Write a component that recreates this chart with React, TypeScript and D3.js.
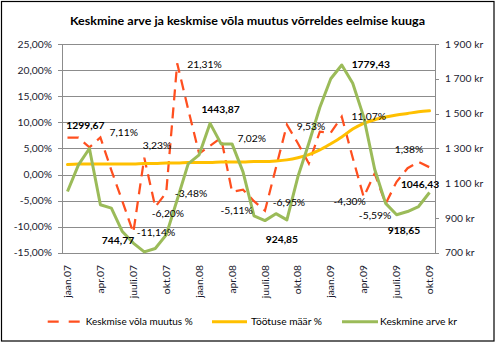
import React from 'react';
import * as d3 from 'd3';

const months = [
  'jaan.07','veebr.07','märts.07','apr.07','mai.07','juuni.07','juuli.07','aug.07','sept.07','okt.07','nov.07','dets.07',
  'jaan.08','veebr.08','märts.08','apr.08','mai.08','juuni.08','juuli.08','aug.08','sept.08','okt.08','nov.08','dets.08',
  'jaan.09','veebr.09','märts.09','apr.09','mai.09','juuni.09','juuli.09','aug.09','sept.09','okt.09'
];

// Keskmise võla muutus % (left axis)
const debtChange = [
  7.05, 7.05, 5.2, 7.11, 0.8, -5.1, -11.14, 3.23, -6.2, -3.48, 21.31, 12.5,
  4.0, 5.5, 7.02, -3.3, -2.9, -5.11, -6.95, 1.3, 9.53, 6.0, 2.1, 8.2,
  8.0, 11.07, 3.2, -4.3, 0.2, -5.59, -1.4, 1.2, 2.4, 1.38
];

// Töötuse määr % (left axis)
const unemployment = [
  1.9, 2.0, 2.0, 2.0, 2.0, 2.0, 2.0, 2.1, 2.1, 2.2, 2.2, 2.3,
  2.3, 2.3, 2.4, 2.4, 2.4, 2.5, 2.5, 2.6, 2.8, 3.2, 3.8, 4.7,
  5.9, 7.2, 8.7, 9.8, 10.5, 11.0, 11.4, 11.7, 12.0, 12.2
];

// Keskmine arve kr (right axis)
const avgBill = [
  1052, 1205, 1299.67, 976, 957, 822, 756, 705, 725, 803, 1005, 1211,
  1263, 1443.87, 1326, 1326, 1165, 912, 885, 924.85, 889, 1137, 1330, 1535,
  1700, 1779.43, 1674, 1481, 1180, 984, 918.65, 937, 966, 1046.43
];

const leftTicks = [-15, -10, -5, 0, 5, 10, 15, 20, 25];
const rightTicks = [700, 900, 1100, 1300, 1500, 1700, 1900];

const debtLabelIdx = [3, 6, 7, 8, 9, 10, 14, 17, 18, 20, 25, 27, 29, 33];
const billLabelIdx = [2, 7, 13, 19, 25, 30, 33];
const billLabelValues = [1299.67, 744.77, 1443.87, 924.85, 1779.43, 918.65, 1046.43];

const titleText = 'Keskmine arve ja keskmise võla muutus võrreldes eelmise kuuga';
const seriesNames = ['Keskmise võla muutus %', 'Töötuse määr %', 'Keskmine arve kr'];

// layout (label offsets relative to points)
const debtLabelOffsets: [number, number][] = [
  [23.4, -5], [22.7, 0], [12.7, -12], [12.7, 6.4], [24.8, 0.6], [27.3, 0.8], [30.6, 0.5],
  [-17.3, 9.5], [24, -8], [24.1, 1.3], [27, 0], [-14, 4.7], [-10.6, 11.3], [-20.5, -18]
];
const billLabelOffsets: [number, number][] = [
  [-4, -22.7], [-26.3, -5], [10.4, -14.4], [6, 25.6], [29, -1], [7.4, 16], [-9.5, -8]
];

const W = 498, H = 343;
const plotL = 62, plotR = 435, plotT = 44, plotB = 252.8;
const FONT = 'Lato, "Open Sans", sans-serif';
const RED = '#FF4F1F', ORANGE = '#FFC000', GREEN = '#9BBB59';
const GRID = '#8c8c8c', TXT = '#000';

const fmtPct = (v: number) => v.toFixed(2).replace('.', ',') + '%';
const fmtNum = (v: number) => v.toFixed(2).replace('.', ',');
const fmtKr = (v: number) => {
  const s = String(v);
  return (s.length > 3 ? s.slice(0, s.length - 3) + ' ' + s.slice(-3) : s) + ' kr';
};

export default function App() {
  const x = d3.scaleBand<number>().domain(months.map((_, i) => i)).range([plotL, plotR]);
  const cx = (i: number) => (x(i) as number) + x.bandwidth() / 2;
  const yL = d3.scaleLinear().domain([-15, 25]).range([plotB, plotT]);
  const yR = d3.scaleLinear().domain([700, 1900]).range([plotB, plotT]);

  const lineDebt = d3.line<number>().x((_, i) => cx(i)).y(d => yL(d));
  const lineUnemp = d3.line<number>().x((_, i) => cx(i)).y(d => yL(d)).curve(d3.curveMonotoneX);
  const lineBill = d3.line<number>().x((_, i) => cx(i)).y(d => yR(d));

  const legendY = 321.7;
  const legend = [
    { name: seriesNames[0], color: RED, dash: '11 10', x1: 47.7, x2: 81.7, tx: 85.7, tw: 107, w: 2.25 },
    { name: seriesNames[1], color: ORANGE, dash: undefined, x1: 212, x2: 247, tx: 251, tw: 71, w: 3 },
    { name: seriesNames[2], color: GREEN, dash: undefined, x1: 342, x2: 378, tx: 380, tw: 77, w: 3 },
  ];

  return (
    <svg width={W} height={H} style={{ position: 'absolute', left: 0, top: 0, background: '#fff' }}
      fontFamily={FONT}>
      <rect x={0} y={0} width={W} height={H} fill="#fff" />
      <rect x={1.5} y={1.5} width={492.5} height={339.5} fill="none" stroke="#000" strokeWidth={1.2} />
      <text x={(70 + 425) / 2} y={24.5} textAnchor="middle" fontWeight="bold" fontSize={12}
        textLength={355} lengthAdjust="spacingAndGlyphs" fill={TXT}>{titleText}</text>

      {/* gridlines */}
      {leftTicks.map(t => (
        <line key={'g' + t} x1={plotL} x2={plotR} y1={Math.round(yL(t)) + 0.5} y2={Math.round(yL(t)) + 0.5}
          stroke={GRID} strokeWidth={1} />
      ))}
      {/* axes */}
      <line x1={plotL + 0.5} x2={plotL + 0.5} y1={plotT} y2={plotB + 0.5} stroke={GRID} />
      <line x1={plotR + 0.5} x2={plotR + 0.5} y1={plotT} y2={plotB + 0.5} stroke={GRID} />
      {leftTicks.map(t => (
        <g key={'lt' + t}>
          <line x1={plotL - 4} x2={plotL} y1={Math.round(yL(t)) + 0.5} y2={Math.round(yL(t)) + 0.5} stroke={GRID} />
          <text x={52} y={yL(t)} dy="0.35em" textAnchor="end" fontSize={10.3} fill="#1a1a2e">{fmtPct(t)}</text>
        </g>
      ))}
      {rightTicks.map(t => (
        <g key={'rt' + t}>
          <line x1={plotR} x2={plotR + 4} y1={Math.round(yR(t)) + 0.5} y2={Math.round(yR(t)) + 0.5} stroke={GRID} />
          <text x={445} y={yR(t)} dy="0.35em" textAnchor="start" fontSize={10.3} fill="#1a1a2e">{fmtKr(t)}</text>
        </g>
      ))}
      {months.map((m, i) => i % 3 === 0 ? (
        <text key={'xl' + i} transform={`translate(${cx(i)},${265}) rotate(-90)`} dy="0.35em" textAnchor="end"
          fontSize={10.3} fill="#1a1a2e">{m}</text>
      ) : null)}

      {/* series */}
      <path d={lineDebt(debtChange) || ''} fill="none" stroke={RED} strokeWidth={2.25} strokeDasharray="11 7" />
      <path d={lineUnemp(unemployment) || ''} fill="none" stroke={ORANGE} strokeWidth={3} strokeLinejoin="round" strokeLinecap="round" />
      <path d={lineBill(avgBill) || ''} fill="none" stroke={GREEN} strokeWidth={3} strokeLinejoin="round" />

      {/* data labels */}
      {debtLabelIdx.map((idx, k) => (
        <text key={'dl' + idx} x={cx(idx) + debtLabelOffsets[k][0]} y={yL(debtChange[idx]) + debtLabelOffsets[k][1]}
          dy="0.35em" textAnchor="middle" fontSize={10.3} fill={TXT}>{fmtPct(debtChange[idx])}</text>
      ))}
      {billLabelIdx.map((idx, k) => (
        <text key={'bl' + idx} x={cx(idx) + billLabelOffsets[k][0]} y={yR(billLabelValues[k]) + billLabelOffsets[k][1]}
          dy="0.35em" textAnchor="middle" fontSize={10.3} fontWeight="bold" fill={TXT}>{fmtNum(billLabelValues[k])}</text>
      ))}

      {/* legend */}
      {legend.map(l => (
        <g key={l.name}>
          <line x1={l.x1} x2={l.x2} y1={legendY} y2={legendY} stroke={l.color} strokeWidth={l.w}
            strokeDasharray={l.dash} />
          <text x={l.tx} y={legendY} dy="0.35em" fontSize={10.3} textLength={l.tw}
            lengthAdjust="spacingAndGlyphs" fill={TXT}>{l.name}</text>
        </g>
      ))}
    </svg>
  );
}
